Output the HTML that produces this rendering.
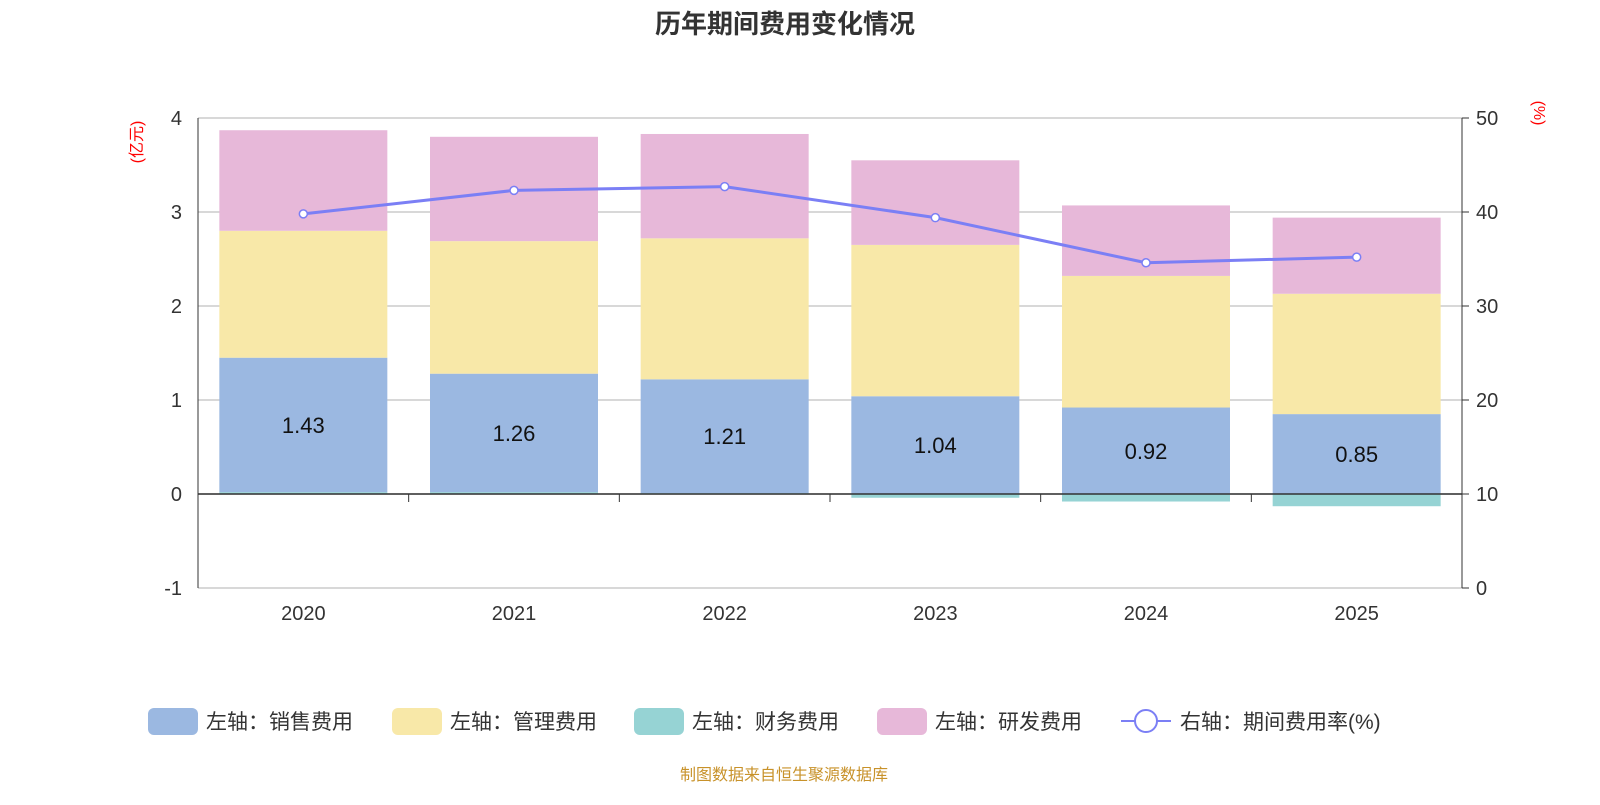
<!DOCTYPE html>
<html><head><meta charset="utf-8"><style>
body{margin:0;background:#fff;font-family:"Liberation Sans","Noto Sans CJK SC",sans-serif}
</style></head><body>
<svg id="c" width="1600" height="800" xmlns="http://www.w3.org/2000/svg"></svg>
<script>
const categories=["2020","2021","2022","2023","2024","2025"];
const sales=[1.43,1.26,1.21,1.04,0.92,0.85];
const mgmt=[1.35,1.41,1.50,1.61,1.40,1.28];
const finance=[0.02,0.02,0.01,-0.04,-0.08,-0.13];
const rnd=[1.07,1.11,1.11,0.90,0.75,0.81];
const rate=[39.8,42.3,42.7,39.4,34.6,35.2];
const leftTicks=[-1,0,1,2,3,4];
const rightTicks=[0,10,20,30,40,50];
const F='"Liberation Sans","Noto Sans CJK SC",sans-serif';
const svg=document.getElementById('c');const NS='http://www.w3.org/2000/svg';
function mk(t,a,p){const e=document.createElementNS(NS,t);for(const k in a)e.setAttribute(k,a[k]);(p||svg).appendChild(e);return e;}
const X0=198,X1=1462,yL=v=>494-v*94,yR=v=>588-v*9.4;
const bw=(X1-X0)/categories.length;const cx=i=>X0+bw*(i+0.5);
let t=mk('text',{x:785,y:33,'text-anchor':'middle','font-size':26,'font-weight':'bold',fill:'#333','font-family':F});t.textContent='历年期间费用变化情况';

leftTicks.forEach(v=>{const g=mk('line',{x1:X0,x2:X1,y1:yL(v),y2:yL(v),stroke:'#ccc','stroke-width':1.5});

const l=mk('text',{x:182,y:yL(v)+7,'text-anchor':'end','font-size':20,fill:'#333','font-family':F});l.textContent=v;
});
rightTicks.forEach(v=>{mk('line',{x1:X1,x2:X1+7,y1:yR(v),y2:yR(v),stroke:'#333'});
const l=mk('text',{x:1476,y:yR(v)+7,'font-size':20,fill:'#333','font-family':F});l.textContent=v;
});
mk('line',{x1:X0,x2:X0,y1:118,y2:588,stroke:'#333'});mk('line',{x1:X1,x2:X1,y1:118,y2:588,stroke:'#333'});
let yt=mk('text',{transform:'translate(142,142) rotate(-90)','text-anchor':'middle','font-size':16,fill:'red','font-family':F});yt.textContent='(亿元)';

yt=mk('text',{transform:'translate(1534,113) rotate(90)','text-anchor':'middle','font-size':16,fill:'red','font-family':F});yt.textContent='(%)';

categories.forEach((c,i)=>{const x=cx(i)-84,w=168;
const fb=Math.max(finance[i],0);
const r1=mk('rect',{x:x,y:Math.min(yL(0),yL(finance[i])),width:w,height:Math.abs(finance[i])*94,fill:'#96d3d4'});

const r2=mk('rect',{x:x,y:yL(fb+sales[i]),width:w,height:sales[i]*94,fill:'#9bb8e1'});

const r3=mk('rect',{x:x,y:yL(fb+sales[i]+mgmt[i]),width:w,height:mgmt[i]*94,fill:'#f8e8a8'});

const r4=mk('rect',{x:x,y:yL(fb+sales[i]+mgmt[i]+rnd[i]),width:w,height:rnd[i]*94,fill:'#e7b8d9'});

const l=mk('text',{x:cx(i),y:yL(fb+sales[i]/2)+8,'text-anchor':'middle','font-size':22,fill:'#111','font-family':F});l.textContent=sales[i].toFixed(2);

const xl=mk('text',{x:cx(i),y:620,'text-anchor':'middle','font-size':20,fill:'#333','font-family':F});xl.textContent=c;

if(i>0)mk('line',{x1:X0+bw*i,x2:X0+bw*i,y1:494,y2:502,stroke:'#333'});});
mk('line',{x1:X0,x2:X1,y1:494,y2:494,stroke:'#333','stroke-width':1.5});
const pts=rate.map((v,i)=>cx(i)+','+yR(v)).join(' ');
const pl=mk('polyline',{points:pts,fill:'none',stroke:'#7b7ff5','stroke-width':3});

rate.forEach((v,i)=>{const p=mk('circle',{cx:cx(i),cy:yR(v),r:4,fill:'#fff',stroke:'#7b7ff5','stroke-width':1.5});
});
const leg=[['#9bb8e1','左轴：销售费用',148],['#f8e8a8','左轴：管理费用',392],['#96d3d4','左轴：财务费用',634],['#e7b8d9','左轴：研发费用',877]];
leg.forEach(l=>{const g=mk('g',{});
mk('rect',{x:l[2],y:708,width:50,height:27,rx:6,fill:l[0]},g);
const tx=mk('text',{x:l[2]+58,y:729,'font-size':21,fill:'#333','font-family':F},g);tx.textContent=l[1];});
const g=mk('g',{});
mk('line',{x1:1121,x2:1171,y1:721,y2:721,stroke:'#7b7ff5','stroke-width':2},g);
mk('circle',{cx:1146,cy:721,r:11,fill:'#fff',stroke:'#7b7ff5','stroke-width':2},g);
const tx=mk('text',{x:1180,y:729,'font-size':21,fill:'#333','font-family':F},g);tx.textContent='右轴：期间费用率(%)';
const s=mk('text',{x:784,y:780,'text-anchor':'middle','font-size':16,fill:'#c8922a','font-family':F});s.textContent='制图数据来自恒生聚源数据库';

</script></body></html>
